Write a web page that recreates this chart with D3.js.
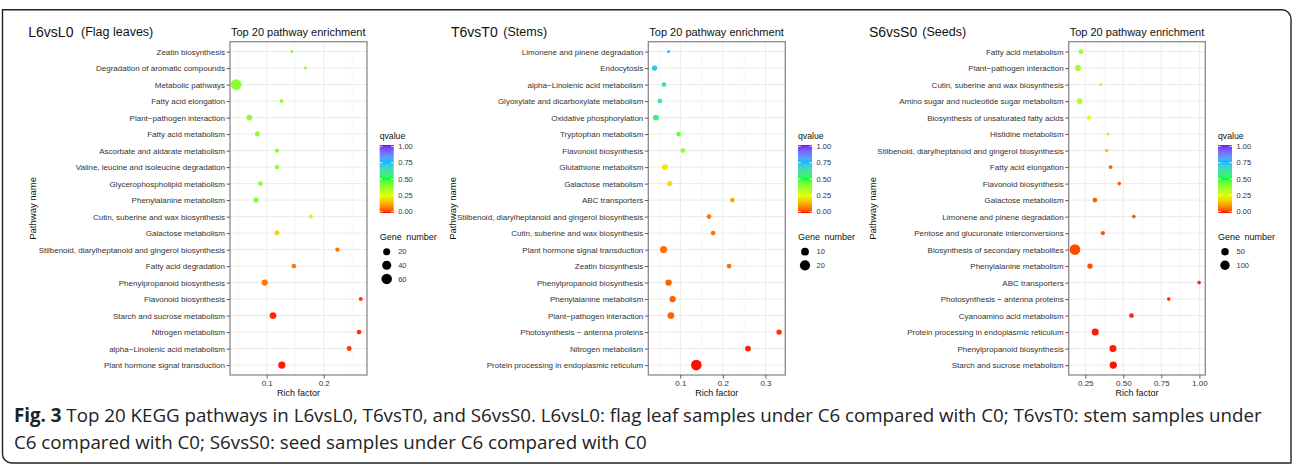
<!DOCTYPE html>
<html>
<head>
<meta charset="utf-8">
<script src="https://cdn.jsdelivr.net/npm/d3@7"></script>
<style>
html,body{margin:0;padding:0;background:#fff;}
svg{display:block;}
text{font-family:"Liberation Sans", Arial, sans-serif;}
</style>
</head>
<body>
<svg id="chart" width="1292" height="465"></svg>
<script>
// ---------------- DATA ----------------
const l6Pathways = ["Zeatin biosynthesis","Degradation of aromatic compounds","Metabolic pathways","Fatty acid elongation","Plant\u2212pathogen interaction","Fatty acid metabolism","Ascorbate and aldarate metabolism","Valine, leucine and isoleucine degradation","Glycerophospholipid metabolism","Phenylalanine metabolism","Cutin, suberine and wax biosynthesis","Galactose metabolism","Stilbenoid, diarylheptanoid and gingerol biosynthesis","Fatty acid degradation","Phenylpropanoid biosynthesis","Flavonoid biosynthesis","Starch and sucrose metabolism","Nitrogen metabolism","alpha\u2212Linolenic acid metabolism","Plant hormone signal transduction"];
const l6Rich = [0.144,0.168,0.0465,0.126,0.0695,0.0836,0.118,0.118,0.0889,0.0812,0.1776,0.118,0.224,0.1476,0.0965,0.265,0.111,0.262,0.2447,0.1265];
const l6Q = [0.40,0.40,0.40,0.40,0.40,0.40,0.40,0.40,0.40,0.40,0.31,0.19,0.07,0.08,0.075,0.02,0.01,0.015,0.02,0.005];
const l6Genes = [3,3,62,4,10,7,5,5,6,8,4,7,5,6,14,4,17,6,7,22];
const l6Ticks = [0.1,0.2];
const l6TickLabels = ["0.1","0.2"];
const l6SizeBreaks = [20,40,60];

const t6Pathways = ["Limonene and pinene degradation","Endocytosis","alpha\u2212Linolenic acid metabolism","Glyoxylate and dicarboxylate metabolism","Oxidative phosphorylation","Tryptophan metabolism","Flavonoid biosynthesis","Glutathione metabolism","Galactose metabolism","ABC transporters","Stilbenoid, diarylheptanoid and gingerol biosynthesis","Cutin, suberine and wax biosynthesis","Plant hormone signal transduction","Zeatin biosynthesis","Phenylpropanoid biosynthesis","Phenylalanine metabolism","Plant\u2212pathogen interaction","Photosynthesis \u2212 antenna proteins","Nitrogen metabolism","Protein processing in endoplasmic reticulum"];
const t6Rich = [0.0725,0.0395,0.0616,0.0522,0.0428,0.096,0.106,0.064,0.075,0.2224,0.1675,0.177,0.0608,0.2145,0.0725,0.082,0.078,0.332,0.259,0.1376];
const t6Q = [0.78,0.72,0.66,0.62,0.57,0.45,0.39,0.22,0.21,0.13,0.07,0.07,0.06,0.06,0.05,0.05,0.05,0.015,0.01,0.002];
const t6Genes = [2,4,3,3,5,3,3,5,4,3,3,3,8,3,6,6,7,4,5,22];
const t6Ticks = [0.1,0.2,0.3];
const t6TickLabels = ["0.1","0.2","0.3"];
const t6SizeBreaks = [10,20];

const s6Pathways = ["Fatty acid metabolism","Plant\u2212pathogen interaction","Cutin, suberine and wax biosynthesis","Amino sugar and nucleotide sugar metabolism","Biosynthesis of unsaturated fatty acids","Histidine metabolism","Stilbenoid, diarylheptanoid and gingerol biosynthesis","Fatty acid elongation","Flavonoid biosynthesis","Galactose metabolism","Limonene and pinene degradation","Pentose and glucuronate interconversions","Biosynthesis of secondary metabolites","Phenylalanine metabolism","ABC transporters","Photosynthesis \u2212 antenna proteins","Cyanoamino acid metabolism","Protein processing in endoplasmic reticulum","Phenylpropanoid biosynthesis","Starch and sucrose metabolism"];
const s6Rich = [0.222,0.202,0.353,0.213,0.274,0.399,0.39,0.4165,0.473,0.3136,0.569,0.366,0.182,0.281,0.998,0.799,0.554,0.3157,0.432,0.434];
const s6Q = [0.38,0.38,0.34,0.34,0.25,0.22,0.17,0.05,0.045,0.045,0.035,0.035,0.03,0.03,0.01,0.01,0.01,0.005,0.005,0.003];
const s6Genes = [12,24,3,20,7,3,4,5,4,10,4,7,140,16,4,4,10,41,41,47];
const s6Ticks = [0.25,0.5,0.75,1.0];
const s6TickLabels = ["0.25","0.50","0.75","1.00"];
const s6SizeBreaks = [50,100];

const qTicks = [0,0.25,0.5,0.75,1];
const qTickLabels = ["0.00","0.25","0.50","0.75","1.00"];

const captionBold = "Fig. 3";
const captionLine1 = " Top 20 KEGG pathways in L6vsL0, T6vsT0, and S6vsS0. L6vsL0: flag leaf samples under C6 compared with C0; T6vsT0: stem samples under";
const captionLine2 = "C6 compared with C0; S6vsS0: seed samples under C6 compared with C0";

// ---------------- STYLE / LAYOUT ----------------
const qStops = [0,0.25,0.5,0.75,1];
const qStopColors = ["#FF0000","#DFFF00","#00FF40","#00BFFF","#8000FF"];
const qColor = d3.scaleLinear().domain(qStops).range(qStopColors).interpolate(d3.interpolateLab).clamp(true);

const panels = [
  {name:"L6vsL0", sub:"(Flag leaves)", nameX:28.3, subX:81, yTitleX:32.7, left:230, right:367,
   pathways:l6Pathways, rich:l6Rich, q:l6Q, genes:l6Genes, ticks:l6Ticks, tickLabels:l6TickLabels, sizeBreaks:l6SizeBreaks},
  {name:"T6vsT0", sub:"(Stems)", nameX:451, subX:503.3, yTitleX:452.5, left:648.3, right:785.3,
   pathways:t6Pathways, rich:t6Rich, q:t6Q, genes:t6Genes, ticks:t6Ticks, tickLabels:t6TickLabels, sizeBreaks:t6SizeBreaks},
  {name:"S6vsS0", sub:"(Seeds)", nameX:869, subX:922.3, yTitleX:872.5, left:1068.7, right:1205.3,
   pathways:s6Pathways, rich:s6Rich, q:s6Q, genes:s6Genes, ticks:s6Ticks, tickLabels:s6TickLabels, sizeBreaks:s6SizeBreaks}
];
const plotTop = 41.7, plotBottom = 375;
const rMin = 1.5, rMax = 5.3;

const svg = d3.select("#chart");

// frame
svg.append("path")
  .attr("d","M2.5,9.8 H1282 A9,9 0 0 1 1291,18.8 V463 H11.5 A9,9 0 0 1 2.5,454 Z")
  .attr("fill","none").attr("stroke","#222").attr("stroke-width",1.4);

// gradient
const defs = svg.append("defs");
const grad = defs.append("linearGradient").attr("id","qgrad").attr("x1",0).attr("y1",1).attr("x2",0).attr("y2",0);
d3.range(0,1.0001,0.025).forEach(t=>{
  grad.append("stop").attr("offset",t).attr("stop-color",qColor(t));
});

panels.forEach(p=>{
  const g = svg.append("g");
  const data = p.pathways.map((d,i)=>({path:d, rich:p.rich[i], q:p.q[i], genes:p.genes[i]}));
  const ext = d3.extent(p.rich);
  const pad = (ext[1]-ext[0])*0.05;
  const x = d3.scaleLinear().domain([ext[0]-pad, ext[1]+pad]).range([p.left, p.right]);
  const y = d3.scalePoint().domain(p.pathways).range([plotTop,plotBottom]).padding(0.6);
  const gExt = d3.extent(p.genes);
  const sz = d3.scaleSqrt().domain([0, gExt[1]-gExt[0]]).range([rMin, rMax]);
  const rad = v => sz(Math.max(0, v-gExt[0]));

  g.append("rect").attr("x",p.left).attr("y",plotTop).attr("width",p.right-p.left).attr("height",plotBottom-plotTop).attr("fill","#fff");
  const dom = x.domain();
  const step = p.ticks[1]-p.ticks[0];
  const minor = d3.range(p.ticks[0]-step*1.5, dom[1]+step, step).filter(v=>v>dom[0]&&v<dom[1]);
  g.selectAll(".minor").data(minor).join("line")
    .attr("x1",d=>x(d)).attr("x2",d=>x(d)).attr("y1",plotTop).attr("y2",plotBottom)
    .attr("stroke","#f2f2f2").attr("stroke-width",0.6);
  g.selectAll(".majx").data(p.ticks).join("line")
    .attr("x1",d=>x(d)).attr("x2",d=>x(d)).attr("y1",plotTop).attr("y2",plotBottom)
    .attr("stroke","#ebebeb").attr("stroke-width",1);
  g.selectAll(".majy").data(p.pathways).join("line")
    .attr("x1",p.left).attr("x2",p.right).attr("y1",d=>y(d)).attr("y2",d=>y(d))
    .attr("stroke","#ebebeb").attr("stroke-width",1);

  g.selectAll(".pt").data(data).join("circle")
    .attr("cx",d=>x(d.rich)).attr("cy",d=>y(d.path)).attr("r",d=>rad(d.genes))
    .attr("fill",d=>qColor(d.q));

  g.append("rect").attr("x",p.left).attr("y",plotTop).attr("width",p.right-p.left).attr("height",plotBottom-plotTop)
    .attr("fill","none").attr("stroke","#8a8a8a").attr("stroke-width",1.3);

  const ya = g.append("g").attr("transform",`translate(${p.left},0)`)
    .call(d3.axisLeft(y).tickSize(3.5).tickPadding(1.5));
  ya.select(".domain").remove();
  ya.selectAll(".tick line").attr("stroke","#4d4d4d").attr("stroke-width",0.9);
  ya.selectAll(".tick text").attr("fill","#333").style("font-size","8px").style("font-family","Liberation Sans, Arial, sans-serif");

  const xa = g.append("g").attr("transform",`translate(0,${plotBottom})`)
    .call(d3.axisBottom(x).tickValues(p.ticks).tickFormat((d,i)=>p.tickLabels[i]).tickSize(3.5).tickPadding(1.5));
  xa.select(".domain").remove();
  xa.selectAll(".tick line").attr("stroke","#4d4d4d").attr("stroke-width",0.9);
  xa.selectAll(".tick text").attr("fill","#333").style("font-size","8px").style("font-family","Liberation Sans, Arial, sans-serif");

  g.append("text").attr("x",(p.left+p.right)/2).attr("y",396).attr("text-anchor","middle")
    .style("font-size","9px").attr("fill","#111").text("Rich factor");
  g.append("text").attr("transform",`translate(${p.yTitleX+3},${(plotTop+plotBottom)/2}) rotate(-90)`)
    .attr("text-anchor","middle").style("font-size","9.5px").attr("fill","#111").text("Pathway name");

  g.append("text").attr("x",p.left+1).attr("y",36).style("font-size","11px").attr("fill","#111").text("Top 20 pathway enrichment");
  g.append("text").attr("x",p.nameX).attr("y",36.5).style("font-size","14px").attr("fill","#111").text(p.name);
  g.append("text").attr("x",p.subX).attr("y",36).style("font-size","12.5px").attr("fill","#111").text(p.sub);

  const lx = p.right + 12.7;
  g.append("text").attr("x",lx).attr("y",139).style("font-size","8.7px").attr("fill","#111").text("qvalue");
  g.append("rect").attr("x",lx).attr("y",145).attr("width",14).attr("height",68).attr("fill","url(#qgrad)");
  const qy = d3.scaleLinear().domain([0,1]).range([211.7,146.3]);
  qTicks.forEach((t,i)=>{
    g.append("line").attr("x1",lx).attr("x2",lx+2.8).attr("y1",qy(t)).attr("y2",qy(t)).attr("stroke","#fff").attr("stroke-width",0.8);
    g.append("line").attr("x1",lx+14-2.8).attr("x2",lx+14).attr("y1",qy(t)).attr("y2",qy(t)).attr("stroke","#fff").attr("stroke-width",0.8);
    g.append("text").attr("x",lx+18.5).attr("y",qy(t)).attr("dy","0.35em").style("font-size","7.5px").attr("fill","#333").text(qTickLabels[i]);
  });
  g.append("text").attr("x",lx).attr("y",240).style("font-size","9px").style("word-spacing","2px").attr("fill","#111").text("Gene number");
  const ly = d3.scalePoint().domain(p.sizeBreaks).range([251.7, 251.7+13.6*(p.sizeBreaks.length-1)]);
  p.sizeBreaks.forEach(b=>{
    g.append("circle").attr("cx",lx+7).attr("cy",ly(b)).attr("r",rad(b)).attr("fill","#000");
    g.append("text").attr("x",lx+18.5).attr("y",ly(b)).attr("dy","0.35em").style("font-size","7.5px").attr("fill","#333").text(b);
  });
});

function capLine(parts){
  const t = svg.append("text").attr("y",0).style("font-family","'Open Sans', 'Noto Sans', sans-serif").style("font-size","19px").attr("fill","#222");
  parts.forEach(pt=>{ t.append("tspan").style("font-weight",pt.bold?"700":"400").text(pt.text); });
  return t;
}
const c1 = capLine([{text:captionBold,bold:true},{text:captionLine1,bold:false}]);
const c2 = capLine([{text:captionLine2,bold:false}]);
const w1 = c1.node().getComputedTextLength();
const sx = 1248 / w1;
c1.attr("transform",`translate(14,422) scale(${sx},1)`);
c2.attr("transform",`translate(14,449) scale(${sx},1)`);
</script>
</body>
</html>
